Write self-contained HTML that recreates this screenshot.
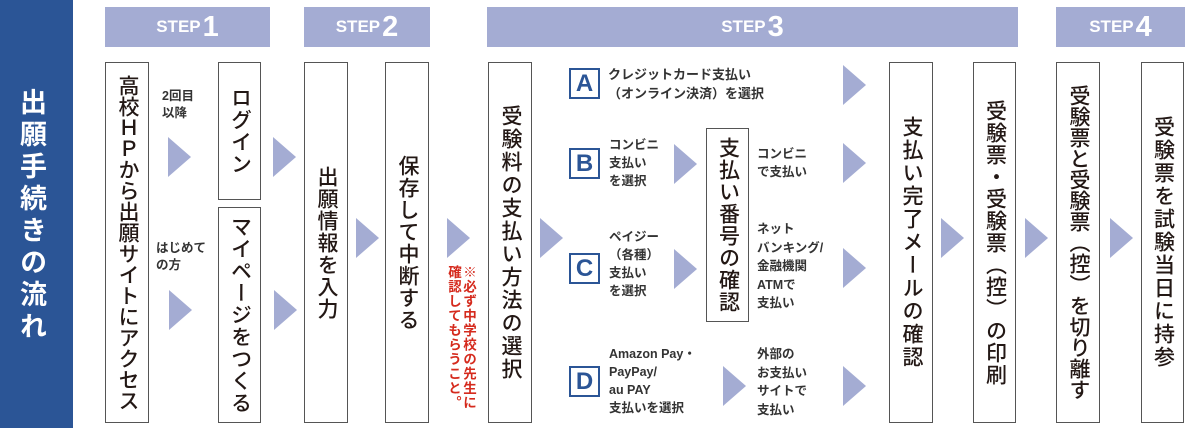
<!DOCTYPE html>
<html><head><meta charset="utf-8"><style>
*{margin:0;padding:0;box-sizing:border-box}
body{width:1199px;height:428px;background:#fff;position:relative;overflow:hidden;font-family:"Liberation Sans","Noto Sans CJK JP",sans-serif;color:#231815}
.a{position:absolute}
.bar{left:0;top:0;width:73px;height:428px;background:#2b5596}
.title{left:14px;top:88px;width:34px;height:262px;writing-mode:vertical-rl;color:#fff;font-weight:bold;font-size:27px;letter-spacing:5px;line-height:34px}
.st{top:7px;height:40px;background:#a4acd3;color:#fff;display:flex;align-items:center;justify-content:center;font-weight:bold;font-size:17px}
.st b{font-size:29px;margin-left:2px}
.bx{border:1.5px solid #555;background:#fff;display:flex;align-items:center;justify-content:center}
.bx span{writing-mode:vertical-rl;font-size:21px;line-height:22px;font-weight:500;letter-spacing:1px}
.tri{width:0;height:0;border-top:20px solid transparent;border-bottom:20px solid transparent;border-left:23px solid #a4acd3}
.sm{font-size:12.5px;line-height:17px;font-weight:bold;color:#333}
.lt{width:31px;height:31px;border:2px solid #2b5596;color:#2b5596;font-weight:bold;font-size:24px;display:flex;align-items:center;justify-content:center;background:#fff}
.note{writing-mode:vertical-rl;color:#d52a1d;font-size:13.5px;line-height:15px;font-weight:bold;letter-spacing:1px}
</style></head><body>
<div class="a bar"></div>
<div class="a title">出願手続きの流れ</div>

<div class="a st" style="left:105px;width:165px">STEP<b>1</b></div>
<div class="a st" style="left:304px;width:126px">STEP<b>2</b></div>
<div class="a st" style="left:487px;width:531px">STEP<b>3</b></div>
<div class="a st" style="left:1056px;width:129px">STEP<b>4</b></div>

<div class="a bx" style="left:105px;top:62px;width:44px;height:361px"><span style="letter-spacing:0">高校ＨＰから出願サイトにアクセス</span></div>
<div class="a bx" style="left:218px;top:62px;width:43px;height:138px"><span>ログイン</span></div>
<div class="a bx" style="left:218px;top:207px;width:43px;height:216px"><span>マイページをつくる</span></div>
<div class="a bx" style="left:304px;top:62px;width:44px;height:361px"><span>出願情報を入力</span></div>
<div class="a bx" style="left:385px;top:62px;width:44px;height:361px"><span>保存して中断する</span></div>
<div class="a bx" style="left:488px;top:62px;width:44px;height:361px"><span style="letter-spacing:2px">受験料の支払い方法の選択</span></div>
<div class="a bx" style="left:706px;top:128px;width:43px;height:194px"><span>支払い番号の確認</span></div>
<div class="a bx" style="left:889px;top:62px;width:44px;height:361px"><span style="letter-spacing:2px">支払い完了メールの確認</span></div>
<div class="a bx" style="left:973px;top:62px;width:43px;height:361px"><span>受験票・受験票︵控︶の印刷</span></div>
<div class="a bx" style="left:1056px;top:62px;width:44px;height:361px"><span style="letter-spacing:0">受験票と受験票︵控︶を切り離す</span></div>
<div class="a bx" style="left:1141px;top:62px;width:43px;height:361px"><span style="letter-spacing:2px">受験票を試験当日に持参</span></div>

<div class="a sm" style="left:162px;top:88px">2回目<br>以降</div>
<div class="a sm" style="left:156px;top:240px">はじめて<br>の方</div>

<div class="a tri" style="left:168px;top:137px"></div>
<div class="a tri" style="left:169px;top:290px"></div>
<div class="a tri" style="left:273px;top:137px"></div>
<div class="a tri" style="left:274px;top:290px"></div>
<div class="a tri" style="left:356px;top:218px"></div>
<div class="a tri" style="left:447px;top:218px"></div>
<div class="a tri" style="left:540px;top:218px"></div>
<div class="a tri" style="left:843px;top:65px"></div>
<div class="a tri" style="left:843px;top:143px"></div>
<div class="a tri" style="left:843px;top:248px"></div>
<div class="a tri" style="left:843px;top:366px"></div>
<div class="a tri" style="left:674px;top:144px"></div>
<div class="a tri" style="left:674px;top:249px"></div>
<div class="a tri" style="left:723px;top:366px"></div>
<div class="a tri" style="left:941px;top:218px"></div>
<div class="a tri" style="left:1025px;top:218px"></div>
<div class="a tri" style="left:1110px;top:218px"></div>

<div class="a note" style="left:446px;top:265px;height:162px">※必ず中学校の先生に<br>確認してもらうこと。</div>

<div class="a lt" style="left:569px;top:68px">A</div>
<div class="a lt" style="left:569px;top:148px">B</div>
<div class="a lt" style="left:569px;top:253px">C</div>
<div class="a lt" style="left:569px;top:366px">D</div>

<div class="a sm" style="left:608px;top:65px;font-size:13px;line-height:19px">クレジットカード支払い<br>（オンライン決済）を選択</div>
<div class="a sm" style="left:609px;top:136px;line-height:18px">コンビニ<br>支払い<br>を選択</div>
<div class="a sm" style="left:609px;top:228px;line-height:18px">ペイジー<br>（各種）<br>支払い<br>を選択</div>
<div class="a sm" style="left:609px;top:345px;line-height:18px">Amazon Pay・<br>PayPay/<br>au PAY<br>支払いを選択</div>
<div class="a sm" style="left:757px;top:145px;line-height:18px">コンビニ<br>で支払い</div>
<div class="a sm" style="left:757px;top:220px;line-height:18.5px">ネット<br>バンキング/<br>金融機関<br>ATMで<br>支払い</div>
<div class="a sm" style="left:757px;top:345px;line-height:18.5px">外部の<br>お支払い<br>サイトで<br>支払い</div>
</body></html>
